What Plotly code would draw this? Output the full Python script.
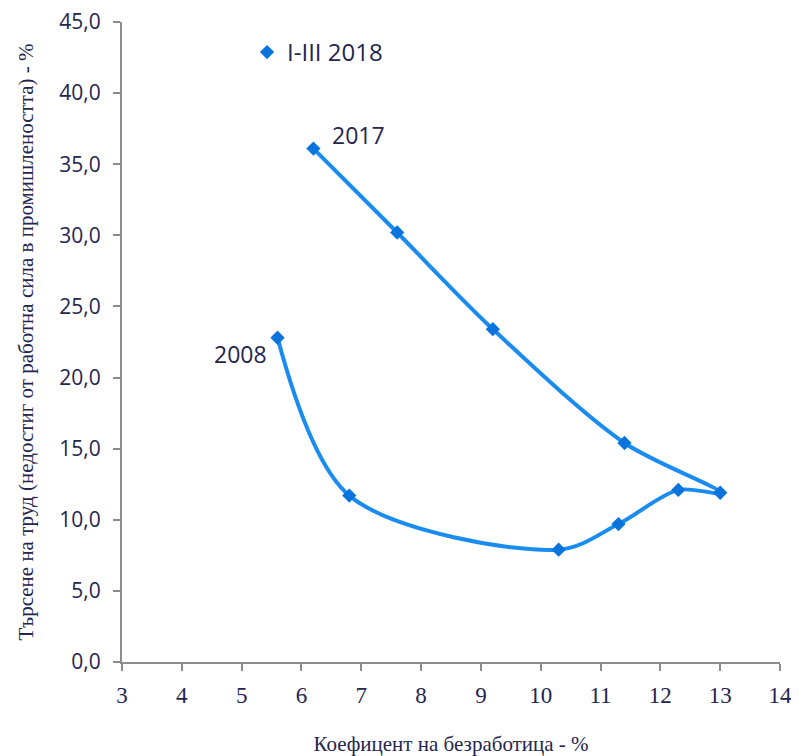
import plotly.graph_objects as go

unemployment = [5.6, 6.8, 10.3, 11.3, 12.3, 13.0, 11.4, 9.2, 7.6, 6.2]
labour_demand = [22.8, 11.7, 7.9, 9.7, 12.1, 11.9, 15.4, 23.4, 30.2, 36.1]
series_name = "I-III 2018"
x_ticks = list(range(3, 15))
y_ticks = [0, 5, 10, 15, 20, 25, 30, 35, 40, 45]

text_color = "#25254f"
line_color = "#1a8cf0"
marker_color = "#0a74dc"

fig = go.Figure()
fig.add_trace(go.Scatter(
    x=unemployment, y=labour_demand, name=series_name, showlegend=False,
    mode="lines+markers",
    line=dict(color=line_color, width=4, shape="spline", smoothing=0.9),
    marker=dict(symbol="diamond", size=11, color=marker_color,
                line=dict(color=marker_color, width=0)),
))
# legend entry (marker only, as in the reference)
fig.add_trace(go.Scatter(
    x=[None], y=[None], name=series_name, mode="markers",
    marker=dict(symbol="diamond", size=11, color=marker_color),
))

fig.add_annotation(x=unemployment[-1], y=labour_demand[-1], text="2017",
                   showarrow=False, xanchor="left", yanchor="bottom",
                   xshift=17, yshift=-4,
                   font=dict(size=23, color=text_color, family="Open Sans"))
fig.add_annotation(x=unemployment[0], y=labour_demand[0], text="2008",
                   showarrow=False, xanchor="right", yanchor="top",
                   xshift=-9, yshift=2,
                   font=dict(size=23, color=text_color, family="Open Sans"))

fig.update_layout(
    width=791, height=748,
    margin=dict(l=114, r=19, t=14, b=94, autoexpand=False),
    paper_bgcolor="white", plot_bgcolor="white",
    separators=", ",
    showlegend=True,
    legend=dict(x=0.19, y=0.9875, xanchor="left", yanchor="top",
                bgcolor="rgba(0,0,0,0)", itemwidth=30,
                font=dict(size=24, color=text_color, family="Open Sans")),
    font=dict(family="Open Sans", color=text_color),
)
fig.update_xaxes(
    range=[3, 14], tickvals=x_ticks, showgrid=False, zeroline=False,
    showline=True, linecolor="#8c8c8c", linewidth=2,
    ticks="outside", ticklen=7, tickwidth=2, tickcolor="#8c8c8c",
    ticklabelstandoff=4, ticklabeloverflow="allow",
    tickfont=dict(size=23, family="Liberation Sans Narrow", color=text_color),
    title=dict(text="Коефицент на безработица - %", standoff=30,
               font=dict(size=21, family="Liberation Sans Narrow", color=text_color)),
)
fig.update_yaxes(
    range=[0, 45], tickvals=y_ticks, tickformat=".1f", showgrid=False, zeroline=False,
    showline=True, linecolor="#8c8c8c", linewidth=2,
    ticks="outside", ticklen=7, tickwidth=2, tickcolor="#8c8c8c",
    ticklabelstandoff=8, ticklabeloverflow="allow",
    tickfont=dict(size=21, family="Open Sans", color=text_color),
    title=dict(text="Търсене на труд (недостиг от работна сила в промишлеността) - %",
               standoff=20,
               font=dict(size=21, family="Liberation Sans Narrow", color=text_color)),
)

fig.write_html("out.html")
